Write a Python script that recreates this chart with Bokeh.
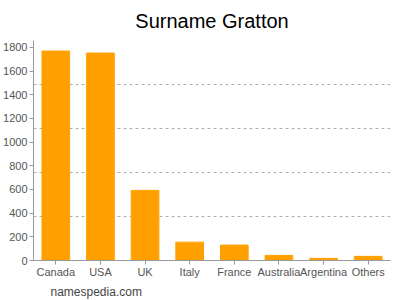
from bokeh.plotting import figure
from bokeh.models import FactorRange, Range1d, FixedTicker, Title
from bokeh.embed import file_html
from bokeh.resources import INLINE

countries = ["Canada", "USA", "UK", "Italy", "France", "Australia", "Argentina", "Others"]
counts = [1769, 1752, 592, 155, 130, 43, 18, 35]
y_ticks = [0, 200, 400, 600, 800, 1000, 1200, 1400, 1600, 1800]
y_max = 1858

p = figure(width=400, height=300, x_range=FactorRange(*countries, range_padding=0),
           y_range=Range1d(0, y_max), output_backend="svg", toolbar_location=None,
           min_border_left=31, min_border_right=10, min_border_top=40, min_border_bottom=39)
p.title.text = "Surname Gratton"
p.title.align = "center"
p.title.text_font = "Liberation Sans"
p.title.text_font_size = "20px"
p.title.text_font_style = "normal"
p.title.text_color = "#000000"
p.title.standoff = 13
p.title.vertical_align = "top"
p.title.text_line_height = 1.0

p.vbar(x=countries, top=counts, width=0.62, color="#ffa000")

p.outline_line_color = None
p.xgrid.grid_line_color = None
p.ygrid.ticker = FixedTicker(ticks=[y_max * f for f in (0.2, 0.4, 0.6, 0.8, 1.0)])
p.ygrid.grid_line_color = "#b0b0b0"
p.ygrid.grid_line_dash = "3 3"

p.yaxis.ticker = FixedTicker(ticks=y_ticks)
for ax in (p.xaxis[0], p.yaxis[0]):
    ax.axis_line_color = "#999999"
    ax.major_tick_line_color = "#999999"
    ax.minor_tick_line_color = None
    ax.major_label_text_color = "#555555"
    ax.major_label_text_font = "Liberation Sans"
    ax.major_label_text_font_size = "11px"
    ax.major_tick_out = 4
    ax.major_tick_in = 0
p.yaxis.major_label_standoff = 2
p.xaxis.major_label_standoff = 1

p.add_layout(Title(text="namespedia.com", align="left", text_font="Liberation Sans",
                   text_font_size="12px", text_font_style="normal", offset=17,
                   standoff=4), "below")

open("out.html", "w").write(file_html(p, INLINE))
